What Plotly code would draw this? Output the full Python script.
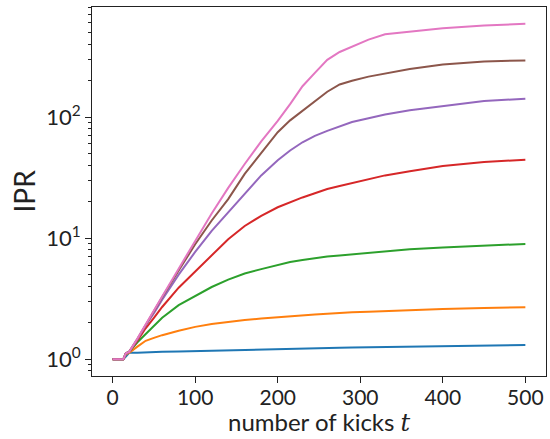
import plotly.graph_objects as go

# kick numbers (shared x grid)
t = [0, 13, 16, 20, 30, 40, 50, 60, 80, 100, 120, 140, 160, 180, 200, 215, 230,
     245, 260, 275, 290, 310, 330, 360, 400, 450, 500]

ipr_blue = [1, 1, 1.05, 1.13, 1.13, 1.14, 1.145, 1.15, 1.16, 1.17, 1.18, 1.19, 1.2,
            1.21, 1.22, 1.225, 1.23, 1.235, 1.24, 1.245, 1.25, 1.255, 1.26, 1.27,
            1.285, 1.3, 1.31]
ipr_orange = [1, 1, 1.1, 1.13, 1.27, 1.42, 1.5, 1.58, 1.72, 1.85, 1.95, 2.04, 2.11,
              2.17, 2.23, 2.27, 2.31, 2.34, 2.37, 2.41, 2.44, 2.47, 2.5, 2.55, 2.6,
              2.65, 2.69]
ipr_green = [1, 1, 1.12, 1.15, 1.38, 1.62, 1.88, 2.2, 2.8, 3.32, 3.95, 4.55, 5.1,
             5.55, 6.0, 6.35, 6.6, 6.85, 7.05, 7.2, 7.35, 7.6, 7.8, 8.1, 8.38, 8.68,
             8.97]
ipr_red = [1, 1, 1.12, 1.15, 1.42, 1.8, 2.2, 2.7, 3.9, 5.3, 7.3, 9.8, 12.6, 15.3,
           18, 19.8, 21.7, 23.5, 25.5, 27, 28.5, 30.8, 33, 35.7, 39.4, 42.6, 44.5]
ipr_purple = [1, 1, 1.12, 1.15, 1.46, 1.9, 2.4, 3.1, 5.0, 7.7, 11.5, 16.3, 23.5, 33,
              44, 53, 62, 70, 77, 84, 91, 98, 105, 114, 124, 136, 142]
ipr_brown = [1, 1, 1.12, 1.15, 1.47, 1.93, 2.48, 3.25, 5.4, 8.9, 14, 21, 34, 51,
             75, 94, 113, 135, 162, 186, 200, 216, 230, 250, 272, 288, 294]
ipr_pink = [1, 1, 1.12, 1.15, 1.48, 1.95, 2.5, 3.3, 5.6, 9.5, 16, 26, 41, 63,
            93, 128, 180, 232, 297, 345, 380, 437, 484, 507, 541, 571, 590]

series = [ipr_blue, ipr_orange, ipr_green, ipr_red, ipr_purple, ipr_brown, ipr_pink]
colors = ["#1f77b4", "#ff7f0e", "#2ca02c", "#d62728", "#9467bd", "#8c564b", "#e377c2"]

x_ticks = [0, 100, 200, 300, 400, 500]
y_ticks = [1, 10, 100]
y_ticktext = ["10<sup>0</sup>", "10<sup>1</sup>", "10<sup>2</sup>"]
y_minor = [m * 10 ** d for d in (-1, 0, 1, 2) for m in range(2, 10)]

fig = go.Figure()
for ys, c in zip(series, colors):
    fig.add_trace(go.Scatter(x=t, y=ys, mode="lines",
                             line=dict(color=c, width=2), showlegend=False))

font = "Lato, 'Open Sans', sans-serif"
fig.update_layout(
    width=550, height=439,
    margin=dict(l=92, r=4, t=7, b=63, autoexpand=False),
    paper_bgcolor="white", plot_bgcolor="white",
    font=dict(family=font, color="#222222"),
    xaxis=dict(range=[-25, 525], tickvals=x_ticks, ticks="outside", ticklen=6,
               tickwidth=1, tickcolor="#222", showline=True, linecolor="#222",
               linewidth=1, mirror=True, showgrid=False, zeroline=False,
               automargin=False, ticklabelstandoff=-3,
               tickfont=dict(size=21, family=font)),
    yaxis=dict(type="log", range=[-0.1386, 2.9096], tickvals=y_ticks,
               ticktext=y_ticktext, ticks="outside", ticklen=6, tickwidth=1,
               tickcolor="#222", showline=True, linecolor="#222", linewidth=1,
               mirror=True, showgrid=False, zeroline=False, automargin=False,
               tickfont=dict(size=22, family=font),
               minor=dict(tickvals=y_minor, ticks="outside", ticklen=3.5,
                          tickwidth=1, tickcolor="#222", showgrid=False)),
    annotations=[
        dict(text="number of kicks <span style='font-family:DejaVu Serif'><i>t</i></span>",
             xref="paper", yref="paper", x=0.5, y=0, xanchor="center",
             yanchor="middle", yshift=-46, showarrow=False,
             font=dict(size=24, family=font, color="#222")),
        dict(text="IPR", xref="paper", yref="paper", x=0, y=0.5,
             xanchor="center", yanchor="middle", xshift=-69, textangle=-90,
             showarrow=False, font=dict(size=28, family=font, color="#222")),
    ],
)

fig.write_html("out.html", config={"displayModeBar": False},
               post_script="document.body.style.margin='0px';")
